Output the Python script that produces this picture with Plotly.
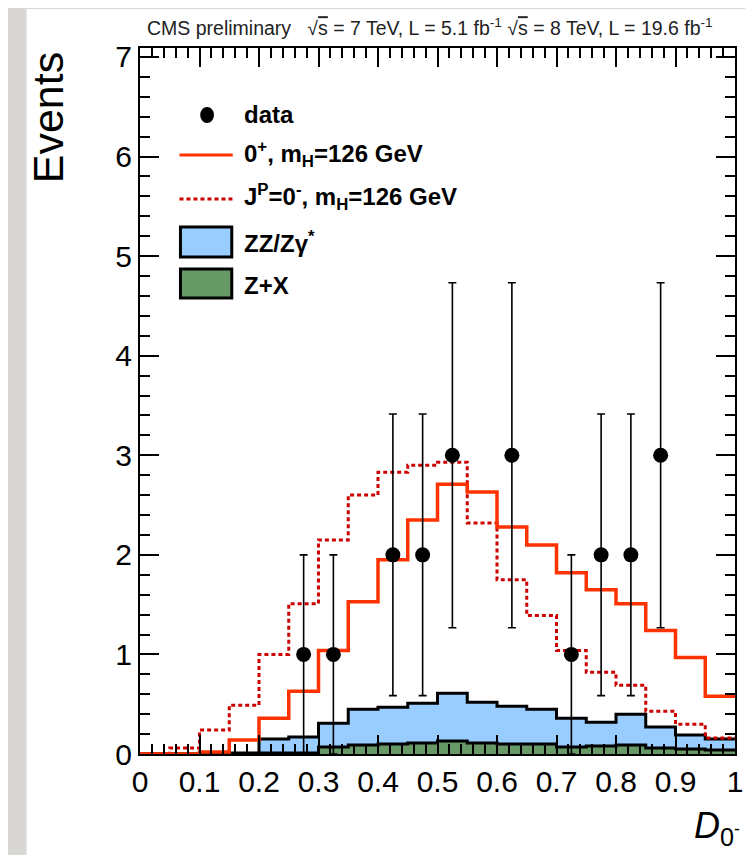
import plotly.graph_objects as go

# ---------------- data ----------------
bin_edges = [round(i * 0.05, 2) for i in range(21)]

sig_0plus = [0, 0, 0.02, 0.14, 0.36, 0.63, 1.04, 1.53, 1.95, 2.35,
             2.71, 2.63, 2.28, 2.10, 1.82, 1.65, 1.51, 1.24, 0.97, 0.58]
sig_0minus = [0, 0.06, 0.24, 0.49, 1.00, 1.51, 2.15, 2.60, 2.83, 2.90,
              2.93, 2.32, 1.75, 1.39, 1.04, 0.82, 0.69, 0.43, 0.30, 0.16]
bkg_zx = [0, 0, 0, 0, 0.01, 0.01, 0.07, 0.09, 0.10, 0.11,
          0.13, 0.11, 0.10, 0.10, 0.07, 0.08, 0.09, 0.06, 0.05, 0.04]
bkg_zz = [0, 0, 0, 0.01, 0.14, 0.16, 0.24, 0.36, 0.37, 0.40,
          0.48, 0.41, 0.38, 0.35, 0.29, 0.24, 0.31, 0.21, 0.14, 0.11]

data_x = [0.275, 0.325, 0.425, 0.475, 0.525, 0.625, 0.725, 0.775, 0.825, 0.875]
data_n = [1, 1, 2, 2, 3, 3, 1, 2, 2, 3]

x_ticks = [0, 0.1, 0.2, 0.3, 0.4, 0.5, 0.6, 0.7, 0.8, 0.9, 1]
x_ticklabels = ["0", "0.1", "0.2", "0.3", "0.4", "0.5", "0.6", "0.7", "0.8", "0.9", "1"]
y_ticks = [0, 1, 2, 3, 4, 5, 6, 7]

# ---------------- helpers ----------------
OFF = 8  # default page body margin
W, H = 753 - OFF, 855 - OFF
L, R, T, B = 140 - OFF, 743 - OFF, 48 - OFF, 754 - OFF


def px(p):
    return (p - OFF - L) / (R - L)


def py(p):
    return (B - (p - OFF)) / (B - T)


def step_y(vals):
    return list(vals) + [vals[-1]]


stack_total = [a + b for a, b in zip(bkg_zx, bkg_zz)]
err = [n ** 0.5 for n in data_n]

FONT = "Liberation Sans, Arial, sans-serif"
BLUE = "#99ccff"
GREEN = "#669966"
RED = "#ff3300"
DRED = "#cc0000"

fig = go.Figure()

fig.add_trace(go.Scatter(x=bin_edges, y=step_y(stack_total), mode="lines",
                         line=dict(shape="hv", color="black", width=3),
                         fill="tozeroy", fillcolor=BLUE, showlegend=False))
fig.add_trace(go.Scatter(x=bin_edges, y=step_y(bkg_zx), mode="lines",
                         line=dict(shape="hv", color="black", width=3),
                         fill="tozeroy", fillcolor=GREEN, showlegend=False))
fig.add_trace(go.Scatter(x=bin_edges, y=step_y(sig_0minus), mode="lines",
                         line=dict(shape="hv", color=DRED, width=3, dash="4px,3px"),
                         showlegend=False))
fig.add_trace(go.Scatter(x=bin_edges, y=step_y(sig_0plus), mode="lines",
                         line=dict(shape="hv", color=RED, width=3.5),
                         showlegend=False))
fig.add_trace(go.Scatter(x=data_x, y=data_n, mode="markers",
                         marker=dict(color="black", size=15),
                         error_y=dict(type="data", array=err, symmetric=True,
                                      color="black", thickness=1.6, width=4),
                         showlegend=False))

axis_common = dict(showline=True, linecolor="black", linewidth=2, mirror="ticks",
                   ticks="inside", ticklen=19, tickwidth=1.5, tickcolor="black",
                   showgrid=False, zeroline=False,
                   tickfont=dict(family=FONT, size=30, color="black"))

fig.update_xaxes(range=[0, 1], tickvals=x_ticks, ticktext=x_ticklabels,
                 minor=dict(dtick=0.02, ticklen=10, tickwidth=1.5, tickcolor="black",
                            ticks="inside", showgrid=False),
                 **axis_common)
fig.update_yaxes(range=[0, 7.09], tickvals=y_ticks,
                 minor=dict(dtick=0.2, ticklen=10, tickwidth=1.5, tickcolor="black",
                            ticks="inside", showgrid=False),
                 **axis_common)

shapes = []
# white canvas on grey backdrop
shapes.append(dict(type="rect", xref="paper", yref="paper", layer="below",
                   x0=px(25), x1=px(770), y0=py(9), y1=py(870),
                   fillcolor="white", line=dict(width=0)))
# legend swatches
shapes.append(dict(type="circle", xref="paper", yref="paper",
                   x0=px(201), x1=px(215), y0=py(123), y1=py(107),
                   fillcolor="black", line=dict(width=0)))
shapes.append(dict(type="line", xref="paper", yref="paper",
                   x0=px(180), x1=px(234), y0=py(155), y1=py(155),
                   line=dict(color=RED, width=3)))
shapes.append(dict(type="line", xref="paper", yref="paper",
                   x0=px(180), x1=px(234), y0=py(199), y1=py(199),
                   line=dict(color=DRED, width=3, dash="4px,3px")))
shapes.append(dict(type="rect", xref="paper", yref="paper",
                   x0=px(181), x1=px(233), y0=py(257), y1=py(227),
                   fillcolor=BLUE, line=dict(color="black", width=3)))
shapes.append(dict(type="rect", xref="paper", yref="paper",
                   x0=px(181), x1=px(233), y0=py(298), y1=py(269),
                   fillcolor=GREEN, line=dict(color="black", width=3)))

ann = []
leg_font = dict(family=FONT, size=24, color="black")
legend_rows = [
    ("<b>data</b>", 115),
    ("<b>0<sup>+</sup>, m<sub>H</sub>=126 GeV</b>", 154),
    ("<b>J<sup>P</sup>=0<sup>-</sup>, m<sub>H</sub>=126 GeV</b>", 197),
    ("<b>ZZ/Zγ<sup>*</sup></b>", 242),
    ("<b>Z+X</b>", 285),
]
for txt, yy in legend_rows:
    ann.append(dict(text=txt, xref="paper", yref="paper", x=px(243), y=py(yy),
                    xanchor="left", yanchor="middle", showarrow=False, font=leg_font))

ann.append(dict(text="CMS preliminary   √<span style='text-decoration:overline'>s</span> = 7 TeV, L = 5.1 fb<sup>-1</sup> "
                     "√<span style='text-decoration:overline'>s</span> = 8 TeV, L = 19.6 fb<sup>-1</sup>",
                xref="paper", yref="paper", x=px(145), y=py(27), xanchor="left", yanchor="middle",
                showarrow=False, font=dict(family=FONT, size=19.5, color="#222222")))
ann.append(dict(text="Events", xref="paper", yref="paper", x=px(47), y=py(118),
                xanchor="center", yanchor="middle", textangle=-90, showarrow=False,
                font=dict(family=FONT, size=43, color="black")))
ann.append(dict(text="<i>D</i><sub>0<sup>-</sup></sub>", xref="paper", yref="paper",
                x=px(750), y=py(828), xanchor="right", yanchor="middle", showarrow=False,
                font=dict(family=FONT, size=36, color="black")))

fig.update_layout(width=W, height=H, margin=dict(l=L, r=W - R, t=T, b=H - B),
                  paper_bgcolor="#d9d7d3", plot_bgcolor="white",
                  shapes=shapes, annotations=ann, showlegend=False,
                  font=dict(family=FONT))

fig.write_html("out.html")
